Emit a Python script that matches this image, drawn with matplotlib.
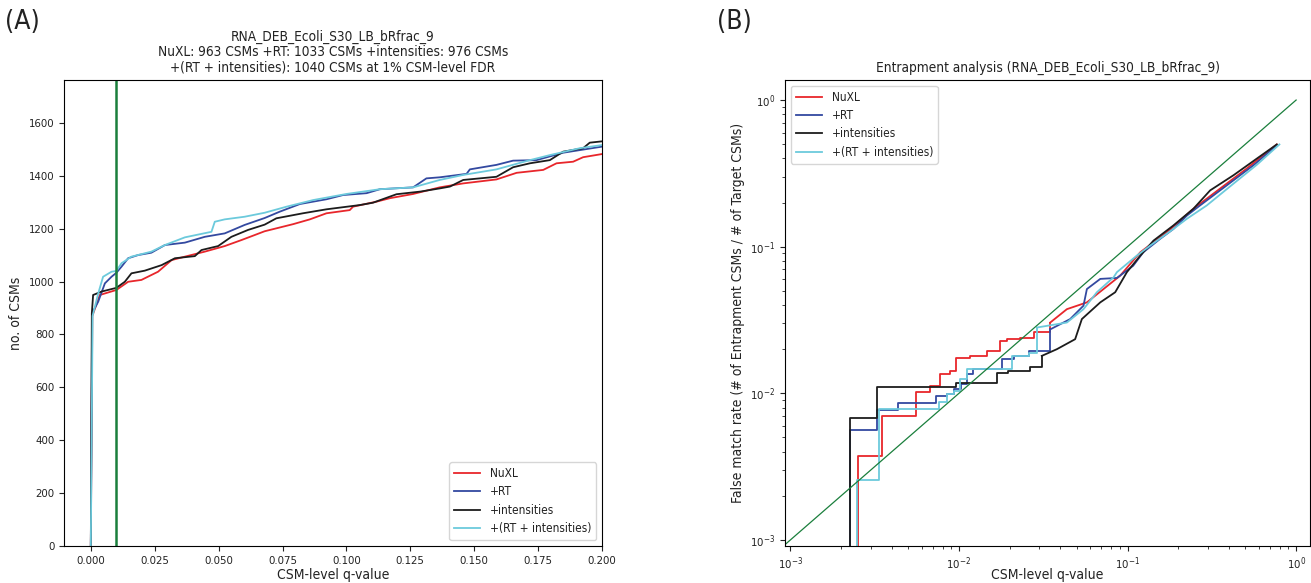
import matplotlib
matplotlib.use("Agg")
import matplotlib.pyplot as plt
from matplotlib import font_manager

# cumulative CSMs vs q-value (panel A)
nuxl_q = [0.0, 0.0006, 0.0035, 0.010, 0.0146, 0.0198, 0.0263, 0.0316, 0.0368, 0.0446, 0.0524, 0.059,
          0.0642, 0.068, 0.0792, 0.0857, 0.0922, 0.1013, 0.1026, 0.1118, 0.117, 0.1261, 0.1365, 0.1457,
          0.1587, 0.1666, 0.177, 0.1822, 0.1887, 0.1926, 0.2]
nuxl_n = [0, 870, 949, 968, 999, 1006, 1037, 1081, 1094, 1113, 1134, 1157,
          1176, 1190, 1217, 1235, 1258, 1270, 1283, 1302, 1315, 1331, 1356, 1371,
          1386, 1411, 1422, 1447, 1453, 1470, 1482]

rt_q = [0.0, 0.0005, 0.0029, 0.0055, 0.0081, 0.010, 0.012, 0.0146, 0.0185, 0.0237, 0.029, 0.0368,
        0.0446, 0.0524, 0.0602, 0.068, 0.0739, 0.0818, 0.0922, 0.0987, 0.1079, 0.1131, 0.1261, 0.1313,
        0.1365, 0.147, 0.1483, 0.1587, 0.1652, 0.1744, 0.1848, 0.2]
rt_n = [0, 880, 924, 993, 1018, 1033, 1056, 1088, 1100, 1109, 1138, 1147,
        1169, 1182, 1214, 1240, 1264, 1293, 1311, 1327, 1334, 1349, 1356, 1390,
        1394, 1407, 1424, 1441, 1457, 1459, 1487, 1510]

int_q = [0.0, 0.0004, 0.0009, 0.0042, 0.010, 0.0133, 0.0159, 0.0211, 0.0277, 0.0329, 0.0407, 0.0433,
         0.0498, 0.055, 0.0615, 0.068, 0.0726, 0.083, 0.0922, 0.1052, 0.1104, 0.117, 0.1196, 0.1289,
         0.1365, 0.1405, 0.1457, 0.1587, 0.1652, 0.1718, 0.1796, 0.1848, 0.1926, 0.1952, 0.2]
int_n = [0, 880, 949, 962, 976, 999, 1031, 1041, 1062, 1088, 1096, 1119,
         1134, 1169, 1195, 1215, 1239, 1258, 1273, 1289, 1298, 1321, 1330, 1340,
         1352, 1359, 1384, 1396, 1432, 1447, 1459, 1491, 1504, 1525, 1530]

both_q = [0.0, 0.0007, 0.0029, 0.0048, 0.0081, 0.010, 0.012, 0.0159, 0.0237, 0.029, 0.0368, 0.0472,
          0.0485, 0.0524, 0.0602, 0.068, 0.0766, 0.087, 0.1, 0.1131, 0.1261, 0.1365, 0.1457, 0.1587,
          0.1718, 0.1796, 0.1913, 0.2]
both_n = [0, 870, 955, 1018, 1037, 1040, 1069, 1094, 1113, 1138, 1167, 1188,
          1226, 1235, 1245, 1260, 1283, 1308, 1331, 1349, 1356, 1384, 1403, 1424,
          1459, 1478, 1504, 1516]

# false match rate vs q-value (panel B), 1e-5 = start below the axis
fmr_nuxl_q = [0.00251, 0.00251, 0.0035, 0.00558, 0.0067, 0.00774, 0.00888, 0.00964, 0.01167, 0.01466,
              0.01758, 0.0192, 0.0231, 0.0277, 0.0348, 0.0437, 0.0574, 0.072, 0.0904, 0.119, 0.171,
              0.246, 0.354, 0.509, 0.768]
fmr_nuxl = [1e-5, 0.00376, 0.00698, 0.0102, 0.0112, 0.01346, 0.0142, 0.01754, 0.0179, 0.01946,
            0.0228, 0.0236, 0.0240, 0.026, 0.0304, 0.0375, 0.0417, 0.0514, 0.0634, 0.0916, 0.1256,
            0.1815, 0.249, 0.341, 0.498]

fmr_rt_q = [0.00225, 0.00225, 0.00327, 0.00433, 0.00733, 0.00846, 0.0093, 0.0103, 0.01115, 0.0122,
            0.018, 0.0211, 0.0262, 0.0348, 0.0457, 0.0548, 0.0574, 0.0689, 0.0865, 0.108, 0.124, 0.156,
            0.187, 0.225, 0.269, 0.388, 0.558, 0.768]
fmr_rt = [1e-5, 0.0056, 0.00768, 0.00853, 0.00957, 0.0099, 0.01064, 0.0116, 0.01346, 0.01459,
          0.01726, 0.018, 0.0195, 0.0273, 0.0321, 0.0396, 0.0514, 0.0603, 0.0612, 0.0741, 0.0916, 0.113,
          0.132, 0.163, 0.191, 0.262, 0.359, 0.49]

fmr_int_q = [0.00225, 0.00225, 0.00327, 0.00967, 0.0168, 0.01966, 0.02624, 0.031, 0.0381, 0.0489,
             0.0536, 0.0689, 0.0845, 0.0991, 0.119, 0.1426, 0.187, 0.246, 0.309, 0.425, 0.585, 0.768]
fmr_int = [1e-5, 0.00681, 0.0110, 0.0118, 0.01383, 0.01418, 0.0152, 0.018, 0.020, 0.0234,
           0.0321, 0.0417, 0.0489, 0.067, 0.0869, 0.110, 0.1395, 0.1815, 0.242, 0.307, 0.399, 0.498]

fmr_both_q = [0.0025, 0.0025, 0.00334, 0.00757, 0.00846, 0.0093, 0.0101, 0.01115, 0.0206, 0.0262,
              0.029, 0.0437, 0.0548, 0.0658, 0.0826, 0.0865, 0.1135, 0.136, 0.187, 0.225, 0.295,
              0.425, 0.585, 0.796]
fmr_both = [1e-5, 0.00255, 0.00776, 0.0087, 0.0099, 0.01035, 0.01245, 0.0146, 0.018, 0.0188,
            0.0281, 0.0304, 0.0375, 0.0489, 0.0618, 0.067, 0.0869, 0.1016, 0.132, 0.155, 0.191,
            0.269, 0.362, 0.498]

labels = ["NuXL", "+RT", "+intensities", "+(RT + intensities)"]
colors = ["#e8262b", "#3349a0", "#1c1c1c", "#6ccadc"]
fdr_color = "#1a7f3c"

title_a = ("RNA_DEB_Ecoli_S30_LB_bRfrac_9\n"
           "NuXL: 963 CSMs +RT: 1033 CSMs +intensities: 976 CSMs\n"
           "+(RT + intensities): 1040 CSMs at 1% CSM-level FDR")
title_b = "Entrapment analysis (RNA_DEB_Ecoli_S30_LB_bRfrac_9)"

# the reference text is narrow, use condensed DejaVu if the system has it
has_cond = any(f.name == "DejaVu Sans" and f.stretch == "condensed"
               for f in font_manager.fontManager.ttflist)
k = 1.0 if has_cond else 0.9
plt.rcParams["font.family"] = ["DejaVu Sans"]
if has_cond:
    plt.rcParams["font.stretch"] = "condensed"
plt.rcParams["text.color"] = "#222222"
plt.rcParams["axes.labelcolor"] = "#222222"
plt.rcParams["xtick.color"] = "#222222"
plt.rcParams["ytick.color"] = "#222222"

fig = plt.figure(figsize=(13.11, 5.83), dpi=100)
ax1 = fig.add_axes([0.0488, 0.0635, 0.4104, 0.7993])
ax2 = fig.add_axes([0.5988, 0.0635, 0.4005, 0.7993])

# panel A
series_a = [(nuxl_q, nuxl_n), (rt_q, rt_n), (int_q, int_n), (both_q, both_n)]
for (q, n), lab, c in zip(series_a, labels, colors):
    ax1.plot(q, n, color=c, lw=1.3, label=lab)
ax1.axvline(0.01, color=fdr_color, lw=1.8)
ax1.set_xlim(-0.0105, 0.2)
ax1.set_ylim(0, 1762)
ax1.set_xticks([0.0, 0.025, 0.05, 0.075, 0.1, 0.125, 0.15, 0.175, 0.2])
ax1.set_yticks(range(0, 1601, 200))
ax1.tick_params(labelsize=8.2 * k)
ax1.set_xlabel("CSM-level q-value", fontsize=10 * k)
ax1.xaxis.set_label_coords(0.5, -0.047)
ax1.set_ylabel("no. of CSMs", fontsize=10 * k)
ax1.set_title(title_a, fontsize=9.8 * k, linespacing=1.12)
ax1.legend(loc="lower right", fontsize=8.6 * k, handlelength=2.2, labelspacing=0.45)

# panel B: stairs at low q, where the steps are big; plain line once they get dense
series_b = [(fmr_nuxl_q, fmr_nuxl), (fmr_rt_q, fmr_rt), (fmr_int_q, fmr_int), (fmr_both_q, fmr_both)]
for (q, f), lab, c in zip(series_b, labels, colors):
    cut = next(i for i, v in enumerate(q) if v > 0.028)
    ax2.plot(q[:cut + 1], f[:cut + 1], color=c, lw=1.3, drawstyle="steps-post", label=lab)
    ax2.plot(q[cut:], f[cut:], color=c, lw=1.3)
ax2.set_xscale("log")
ax2.set_yscale("log")
ax2.set_xlim(0.00093, 1.21)
ax2.set_ylim(0.00091, 1.37)
ax2.plot([0.00093, 1.0], [0.00093, 1.0], color=fdr_color, lw=0.9)
ax2.tick_params(labelsize=8.2 * k)
ax2.set_xlabel("CSM-level q-value", fontsize=10 * k)
ax2.xaxis.set_label_coords(0.5, -0.047)
ax2.set_ylabel("False match rate (# of Entrapment CSMs / # of Target CSMs)", fontsize=10 * k)
ax2.set_title(title_b, fontsize=9.8 * k)
ax2.legend(loc="upper left", fontsize=8.6 * k, handlelength=2.2, labelspacing=0.45)

fig.text(0.004, 0.962, "(A)", fontsize=19 * k, ha="left", va="center")
fig.text(0.547, 0.962, "(B)", fontsize=19 * k, ha="left", va="center")

fig.savefig("out.png", dpi=100)
